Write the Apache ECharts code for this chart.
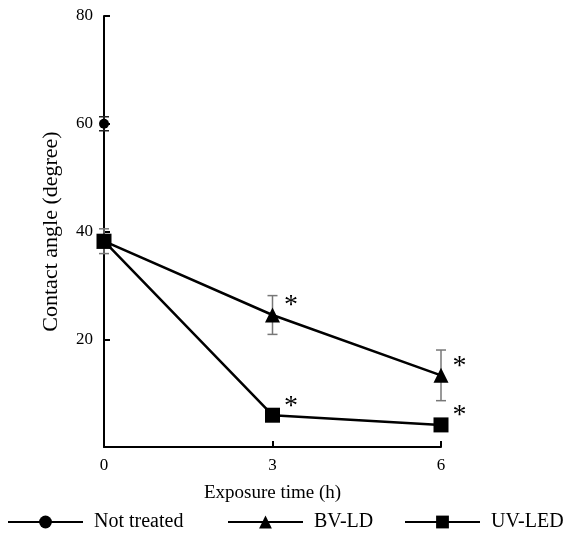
<!DOCTYPE html>
<html>
<head>
<meta charset="utf-8">
<script src="https://cdn.jsdelivr.net/npm/echarts@6/dist/echarts.min.js"></script>
<style>html,body{margin:0;padding:0;background:#fff;}#c{width:568px;height:535px;}</style>
</head>
<body>
<div id="c"></div>
<script>
var hours = [0, 3, 6];
var xTicks = ['0', '3', '6'];
var yTicks = ['', '20', '40', '60', '80'];
var seriesNames = ['Not treated', 'BV-LD', 'UV-LED'];
var notTreated = [60];
var notTreatedErr = [1.3];
var bvld = [38.2, 24.5, 13.3];
var bvldErr = [2.3, 3.6, 4.7];
var uvled = [38.2, 5.9, 4.1];
var marks = ['', '*', '*'];

var font = 'Liberation Serif';

function lineData(vals) {
  return vals.map(function (v, i) {
    return {
      value: [hours[i], v],
      label: { show: marks[i] !== '', formatter: marks[i] }
    };
  });
}

function errData(vals, errs) {
  var out = [];
  vals.forEach(function (v, i) {
    if (errs[i] > 0) out.push([hours[i], v - errs[i], v + errs[i]]);
  });
  return out;
}

function errRender(color) {
  return function (params, api) {
    var x = api.value(0);
    var lo = api.coord([x, api.value(1)]);
    var hi = api.coord([x, api.value(2)]);
    var w = 5;
    var st = { stroke: color, lineWidth: 1.5 };
    return {
      type: 'group',
      children: [
        { type: 'line', shape: { x1: lo[0], y1: lo[1], x2: hi[0], y2: hi[1] }, style: st },
        { type: 'line', shape: { x1: lo[0] - w, y1: lo[1], x2: lo[0] + w, y2: lo[1] }, style: st },
        { type: 'line', shape: { x1: hi[0] - w, y1: hi[1], x2: hi[0] + w, y2: hi[1] }, style: st }
      ]
    };
  };
}

var starLabel = {
  position: 'right',
  distance: 4,
  offset: [0, -9],
  fontFamily: font,
  fontSize: 28,
  color: '#000'
};

function legendAt(name, left) {
  return {
    data: [name], left: left, top: 512, orient: 'horizontal', padding: 0,
    itemWidth: 75, itemHeight: 16,
    textStyle: { fontFamily: font, fontSize: 20, color: '#000', padding: [0, 0, 0, 6] }
  };
}

var chart = echarts.init(document.getElementById('c'), null, { renderer: 'canvas' });
chart.setOption({
  animation: false,
  backgroundColor: '#fff',
  grid: { left: 104, right: 127, top: 16, bottom: 88, containLabel: false },
  xAxis: {
    type: 'value', min: 0, max: 6, interval: 3,
    name: 'Exposure time (h)', nameLocation: 'middle', nameGap: 37,
    nameTextStyle: { fontFamily: font, fontSize: 19, color: '#000' },
    axisLine: { lineStyle: { color: '#000', width: 2 } },
    axisTick: { inside: true, length: 6, lineStyle: { color: '#000', width: 2 } },
    axisLabel: { fontFamily: font, fontSize: 17, color: '#000', margin: 10,
      formatter: function (v) { return xTicks[hours.indexOf(v)]; } },
    splitLine: { show: false }
  },
  yAxis: {
    type: 'value', min: 0, max: 80, interval: 20,
    name: 'Contact angle (degree)', nameLocation: 'middle', nameGap: 42,
    nameTextStyle: { fontFamily: font, fontSize: 22, color: '#000' },
    axisLine: { show: true, lineStyle: { color: '#000', width: 2 } },
    axisTick: { show: true, inside: true, length: 6, lineStyle: { color: '#000', width: 2 } },
    axisLabel: { fontFamily: font, fontSize: 17, color: '#000', margin: 11,
      formatter: function (v) { return yTicks[v / 20]; } },
    splitLine: { show: false }
  },
  legend: [
    legendAt(seriesNames[0], 7),
    legendAt(seriesNames[1], 227),
    legendAt(seriesNames[2], 404)
  ],
  series: [
    {
      type: 'custom', name: 'err-nt', renderItem: errRender('#222'),
      data: errData(notTreated, notTreatedErr), z: 1, silent: true,
      encode: { x: 0, y: [1, 2] }
    },
    {
      type: 'custom', name: 'err-bv', renderItem: errRender('#777'),
      data: errData(bvld, bvldErr), z: 1, silent: true,
      encode: { x: 0, y: [1, 2] }
    },
    {
      type: 'line', name: seriesNames[0],
      data: [[hours[0], notTreated[0]]],
      symbol: 'circle', symbolSize: 10,
      lineStyle: { color: '#000', width: 2.5 },
      itemStyle: { color: '#000' }, z: 3
    },
    {
      type: 'line', name: seriesNames[1],
      data: lineData(bvld),
      symbol: 'triangle', symbolSize: 15, showAllSymbol: true,
      lineStyle: { color: '#000', width: 2.5 },
      itemStyle: { color: '#000' },
      label: starLabel, z: 3
    },
    {
      type: 'line', name: seriesNames[2],
      data: lineData(uvled),
      symbol: 'rect', symbolSize: 15, showAllSymbol: true,
      lineStyle: { color: '#000', width: 2.5 },
      itemStyle: { color: '#000' },
      label: starLabel, z: 4
    }
  ]
});
</script>
</body>
</html>
